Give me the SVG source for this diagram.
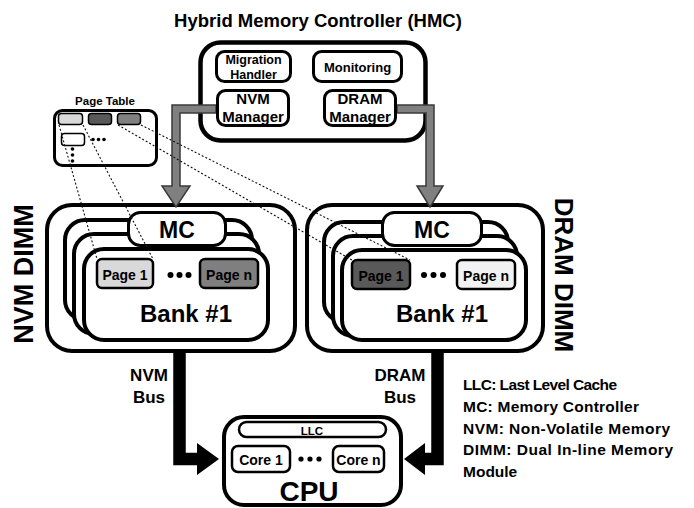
<svg xmlns="http://www.w3.org/2000/svg" width="694" height="508" viewBox="0 0 694 508">
<style>
text{font-family:"Liberation Sans",Arial,sans-serif;font-weight:bold;fill:#000}
.box{fill:#fff;stroke:#000}
.dot{fill:#000}
.dl{fill:none;stroke:#111;stroke-width:1.1;stroke-dasharray:2 2}
.gray{fill:#808080;stroke:#3a3a3a;stroke-width:1.5}
.bus{fill:none;stroke:#000;stroke-width:12.5}
</style>
<rect width="694" height="508" fill="#fff"/>

<g id="hmc">
<text x="318" y="27" font-size="18.5" text-anchor="middle">Hybrid Memory Controller (HMC)</text>
<rect class="box" x="200.5" y="42.5" width="225" height="98" rx="20" stroke-width="4.5"/>
</g>

<g id="page-table">
<text x="105" y="105" font-size="11.5" text-anchor="middle">Page Table</text>
<rect class="box" x="54.5" y="110.5" width="102" height="55" rx="8" stroke-width="3"/>
<rect x="58.5" y="113.5" width="24" height="11" rx="3" fill="#d9d9d9" stroke="#000" stroke-width="1.5"/>
<rect x="88.5" y="113.5" width="23" height="11" rx="3" fill="#595959" stroke="#000" stroke-width="1.5"/>
<rect x="117.5" y="113.5" width="23" height="11" rx="3" fill="#808080" stroke="#000" stroke-width="1.5"/>
<rect x="61.5" y="133.5" width="23" height="12" rx="3" fill="#fff" stroke="#000" stroke-width="1.5"/>
<circle class="dot" cx="93" cy="139.5" r="1.8"/><circle class="dot" cx="98.5" cy="139.5" r="1.8"/><circle class="dot" cx="104" cy="139.5" r="1.8"/>
<circle class="dot" cx="72.5" cy="149" r="1.8"/><circle class="dot" cx="72.5" cy="155" r="1.8"/><circle class="dot" cx="72.5" cy="161" r="1.8"/>
</g>

<g id="nvm-dimm">
<rect class="box" x="47" y="205" width="248" height="146" rx="25" stroke-width="4"/>
<text transform="translate(33,274) rotate(-90)" font-size="27" text-anchor="middle">NVM DIMM</text>
<rect class="box" x="65" y="220" width="187" height="100" rx="20" stroke-width="4"/>
<rect class="box" x="74" y="234" width="185" height="100" rx="20" stroke-width="4"/>
<rect class="box" x="84" y="249" width="184" height="91" rx="20" stroke-width="4"/>
<rect class="box" x="128.5" y="212.5" width="97" height="33" rx="12" stroke-width="3"/>
<text x="177" y="238" font-size="23" text-anchor="middle">MC</text>
<rect x="97" y="259" width="56" height="29" rx="5" fill="#d9d9d9" stroke="#000" stroke-width="2.5"/>
<text x="125" y="280" font-size="14" text-anchor="middle">Page 1</text>
<circle class="dot" cx="170.5" cy="275" r="3"/><circle class="dot" cx="179.5" cy="275" r="3"/><circle class="dot" cx="188.5" cy="275" r="3"/>
<rect x="200" y="259" width="58" height="29" rx="5" fill="#7f7f7f" stroke="#000" stroke-width="2.5"/>
<text x="229" y="280" font-size="14" text-anchor="middle">Page n</text>
<text x="186" y="322" font-size="24" text-anchor="middle">Bank #1</text>
</g>

<g id="dram-dimm">
<rect class="box" x="307" y="205" width="236" height="146" rx="25" stroke-width="4"/>
<text transform="translate(555,275) rotate(90)" font-size="26" text-anchor="middle">DRAM DIMM</text>
<rect class="box" x="324" y="222" width="184" height="100" rx="20" stroke-width="4"/>
<rect class="box" x="333" y="236" width="184" height="100" rx="20" stroke-width="4"/>
<rect class="box" x="342" y="250" width="184" height="90" rx="20" stroke-width="4"/>
<rect class="box" x="382.5" y="212.5" width="99" height="33" rx="12" stroke-width="3"/>
<text x="432" y="238" font-size="23" text-anchor="middle">MC</text>
<rect x="352" y="260" width="58" height="29" rx="5" fill="#595959" stroke="#000" stroke-width="2.5"/>
<text x="381" y="281" font-size="14" text-anchor="middle">Page 1</text>
<circle class="dot" cx="424" cy="275" r="3"/><circle class="dot" cx="433.5" cy="275" r="3"/><circle class="dot" cx="443" cy="275" r="3"/>
<rect x="457" y="260" width="58" height="29" rx="5" fill="#f2f2f2" stroke="#000" stroke-width="2.5"/>
<text x="486" y="281" font-size="14" text-anchor="middle">Page n</text>
<text x="442" y="322" font-size="24" text-anchor="middle">Bank #1</text>
</g>

<g id="cpu">
<rect class="box" x="224" y="417" width="177" height="88" rx="20" stroke-width="4"/>
<rect class="box" x="239" y="422" width="147" height="15" rx="7.5" stroke-width="2.5"/>
<text x="312" y="435" font-size="11.5" text-anchor="middle">LLC</text>
<rect class="box" x="232" y="446" width="58" height="26" rx="6" stroke-width="2.5"/>
<text x="261" y="465" font-size="14" text-anchor="middle">Core 1</text>
<circle class="dot" cx="301" cy="459" r="2.6"/><circle class="dot" cx="310" cy="459" r="2.6"/><circle class="dot" cx="319" cy="459" r="2.6"/>
<rect class="box" x="333" y="446" width="51" height="26" rx="6" stroke-width="2.5"/>
<text x="358.5" y="465" font-size="14" text-anchor="middle">Core n</text>
<text x="309" y="501" font-size="28" text-anchor="middle">CPU</text>
</g>

<g id="connectors">
<path class="gray" d="M216,105 L172,105 L172,186 L162,186 L176,207 L190,186 L180,186 L180,113 L216,113 Z"/>
<path class="gray" d="M397,105 L434,105 L434,186 L443,186 L430,207 L417,186 L426,186 L426,113 L397,113 Z"/>
<line class="dl" x1="59" y1="125" x2="97" y2="259"/>
<line class="dl" x1="83" y1="125" x2="153" y2="259"/>
<line class="dl" x1="118" y1="125" x2="352" y2="260"/>
<line class="dl" x1="141" y1="125" x2="410" y2="260"/>
<path class="bus" d="M179.5,352 L179.5,459 L198,459"/>
<polygon points="197,443 219,459 197,475" fill="#000"/>
<path class="bus" d="M437.5,352 L437.5,459 L424,459"/>
<polygon points="425,443 404,459 425,475" fill="#000"/>
<text x="149" y="381" font-size="17" text-anchor="middle">NVM</text>
<text x="149" y="403" font-size="17" text-anchor="middle">Bus</text>
<text x="400" y="381" font-size="17" text-anchor="middle">DRAM</text>
<text x="400" y="403" font-size="17" text-anchor="middle">Bus</text>
</g>

<g id="hmc-migration">
<rect class="box" x="216.5" y="51.5" width="74" height="30" rx="8" stroke-width="3"/>
<text x="253.5" y="64" font-size="12.5" text-anchor="middle">Migration</text>
<text x="253.5" y="79" font-size="12.5" text-anchor="middle">Handler</text>
</g>
<g id="hmc-monitoring">
<rect class="box" x="313.5" y="51.5" width="88" height="30" rx="8" stroke-width="3"/>
<text x="357.5" y="72" font-size="13" text-anchor="middle">Monitoring</text>
</g>
<g id="hmc-nvm-manager">
<rect class="box" x="217.5" y="90.5" width="71" height="35" rx="8" stroke-width="3"/>
<text x="253" y="104" font-size="15" text-anchor="middle">NVM</text>
<text x="253" y="122" font-size="15" text-anchor="middle">Manager</text>
</g>
<g id="hmc-dram-manager">
<rect class="box" x="324.5" y="90.5" width="71" height="35" rx="8" stroke-width="3"/>
<text x="360" y="104" font-size="15" text-anchor="middle">DRAM</text>
<text x="360" y="122" font-size="15" text-anchor="middle">Manager</text>
</g>

<g id="legend" font-size="15.5">
<text x="463" y="390" textLength="154" lengthAdjust="spacing">LLC: Last Level Cache</text>
<text x="463" y="412" textLength="176" lengthAdjust="spacing">MC: Memory Controller</text>
<text x="463" y="434" textLength="207" lengthAdjust="spacing">NVM: Non-Volatile Memory</text>
<text x="463" y="455" textLength="210" lengthAdjust="spacing">DIMM: Dual In-line Memory</text>
<text x="463" y="477">Module</text>
</g>
</svg>
